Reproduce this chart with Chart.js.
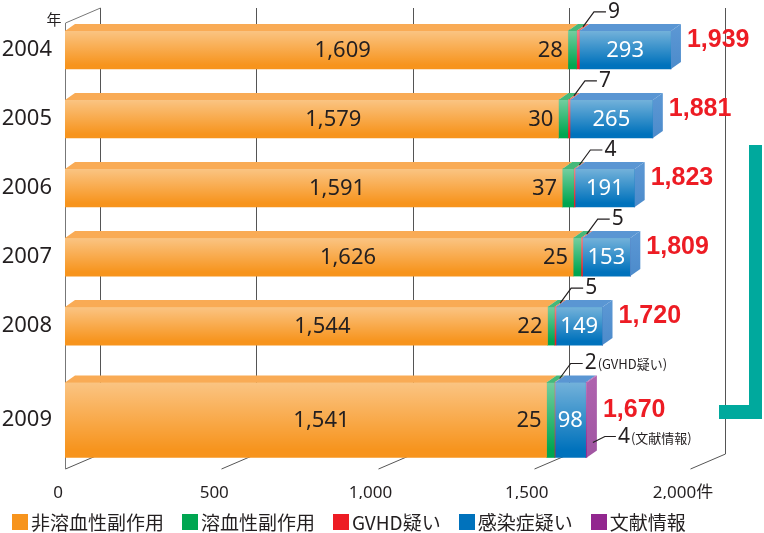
<!DOCTYPE html>
<html lang="ja">
<head>
<meta charset="utf-8">
<script src="https://cdn.jsdelivr.net/npm/chart.js@4.4.0/dist/chart.umd.min.js"></script>
<style>
  html, body { margin: 0; padding: 0; background: #fff; }
  #wrap { position: relative; width: 764px; height: 533px; }
  #legend { position: absolute; left: 12px; top: 511px; display: flex; font: 19px "Noto Sans CJK JP", sans-serif; color: #231f20; line-height: 22px; }
  .item { display: flex; align-items: center; margin-right: 18px; }
  .box { width: 16px; height: 16px; margin-right: 3px; }
</style>
</head>
<body>
<div id="wrap">
  <canvas id="chart" width="764" height="533"></canvas>
  <div id="legend"></div>
</div>
<script>
// 年ごとの件数
const years = ['2004', '2005', '2006', '2007', '2008', '2009'];
const yearPos = [0, 1, 2, 3, 4, 5.36];
const nonHemolytic = [1609, 1579, 1591, 1626, 1544, 1541];
const hemolytic = [28, 30, 37, 25, 22, 25];
const gvhd = [9, 7, 4, 5, 5, 2];
const infection = [293, 265, 191, 153, 149, 98];
const literature = [0, 0, 0, 0, 0, 4];
const totals = [1939, 1881, 1823, 1809, 1720, 1670];
const seriesNames = ['非溶血性副作用', '溶血性副作用', 'GVHD疑い', '感染症疑い', '文献情報'];
const xTicks = [0, 500, 1000, 1500, 2000];

const seriesValues = [nonHemolytic, hemolytic, gvhd, infection, literature];
const frontColors = ['#F7941D', '#00A651', '#ED1C24', '#0072BC', '#92278F'];
const topColors = ['#F9AB55', '#45B87A', '#F26A55', '#5A96D3', '#AE62AE'];
const sideColors = ['#F59A30', '#1FA463', '#E2453A', '#4C8BCB', '#A055A1'];

const DEPTH_X = 10, DEPTH_Y = 7;    // bar depth
const WALL_X = 35, WALL_Y = 15;     // back wall offset
const fmt = v => v.toLocaleString('en-US');

// 2009 is drawn as its own taller group
const groups = [[0, 1, 2, 3, 4], [5]];
const datasets = [];
groups.forEach((rows, g) => {
  seriesValues.forEach((vals, s) => {
    datasets.push({
      label: seriesNames[s],
      data: rows.map(i => ({ x: vals[i], y: yearPos[i] })),
      backgroundColor: frontColors[s],
      borderWidth: 0,
      barThickness: g ? 75 : 38,
      series: s
    });
  });
});

function getBar(chart, row, s) {
  const g = row === 5 ? 1 : 0;
  const meta = chart.getDatasetMeta(g * 5 + s);
  const el = meta.data[g ? 0 : row];
  const p = el.getProps(['x', 'base', 'y', 'height'], true);
  return {
    left: Math.min(p.x, p.base), right: Math.max(p.x, p.base),
    top: p.y - p.height / 2, bottom: p.y + p.height / 2, y: p.y
  };
}

const frame3d = {
  id: 'frame3d',
  beforeDatasetsDraw(chart) {
    const { ctx, chartArea: a, scales: { x } } = chart;
    ctx.save();
    ctx.strokeStyle = '#555';
    ctx.lineWidth = 1;
    xTicks.forEach(v => {
      const px = Math.round(x.getPixelForValue(v)) + 0.5;
      ctx.beginPath();
      ctx.moveTo(px + WALL_X, a.top - WALL_Y);
      ctx.lineTo(px + WALL_X, a.bottom - WALL_Y);
      ctx.lineTo(px, a.bottom);
      ctx.stroke();
    });
    // left wall
    const lx = Math.round(a.left) + 0.5;
    ctx.strokeStyle = '#777';
    ctx.beginPath();
    ctx.moveTo(lx, a.bottom);
    ctx.lineTo(lx, a.top);
    ctx.lineTo(lx + WALL_X, a.top - WALL_Y);
    ctx.stroke();
    ctx.restore();
  },
  afterDatasetsDraw(chart) {
    const { ctx } = chart;
    ctx.save();
    years.forEach((yr, row) => {
      let last = -1;
      seriesValues.forEach((vals, s) => { if (vals[row] > 0) last = s; });
      seriesValues.forEach((vals, s) => {
        if (!(vals[row] > 0)) return;
        const b = getBar(chart, row, s);
        // sheen on front face
        const gr = ctx.createLinearGradient(0, b.top, 0, b.bottom);
        gr.addColorStop(0, 'rgba(255,255,255,0.45)');
        gr.addColorStop(0.9, 'rgba(255,255,255,0)');
        ctx.fillStyle = gr;
        ctx.fillRect(b.left, b.top, b.right - b.left, b.bottom - b.top);
        // top face
        ctx.fillStyle = topColors[s];
        ctx.beginPath();
        ctx.moveTo(b.left, b.top);
        ctx.lineTo(b.right, b.top);
        ctx.lineTo(b.right + DEPTH_X, b.top - DEPTH_Y);
        ctx.lineTo(b.left + DEPTH_X, b.top - DEPTH_Y);
        ctx.closePath();
        ctx.fill();
        if (s === last) {
          const sg = ctx.createLinearGradient(0, b.top, 0, b.bottom);
          sg.addColorStop(0, topColors[s]);
          sg.addColorStop(1, sideColors[s]);
          ctx.fillStyle = sg;
          ctx.beginPath();
          ctx.moveTo(b.right, b.top);
          ctx.lineTo(b.right + DEPTH_X, b.top - DEPTH_Y);
          ctx.lineTo(b.right + DEPTH_X, b.bottom - DEPTH_Y);
          ctx.lineTo(b.right, b.bottom);
          ctx.closePath();
          ctx.fill();
        }
      });
    });

    // value labels
    ctx.textBaseline = 'middle';
    years.forEach((yr, row) => {
      const o = getBar(chart, row, 0);
      const gn = getBar(chart, row, 1);
      const rd = getBar(chart, row, 2);
      const bl = getBar(chart, row, 3);
      ctx.fillStyle = '#231f20';
      ctx.font = '22px "Noto Sans", "Noto Sans CJK JP"';
      ctx.textAlign = 'right';
      ctx.fillText(fmt(nonHemolytic[row]), o.right - 197, o.y + 1);
      ctx.fillText(fmt(hemolytic[row]), gn.left - 5, gn.y + 1);
      ctx.fillStyle = '#fff';
      ctx.textAlign = 'center';
      ctx.fillText(fmt(infection[row]), (bl.left + bl.right) / 2, bl.y + 1);

      // GVHD leader
      const sx = (rd.left + rd.right) / 2 + DEPTH_X / 2;
      const sy = rd.top - 4;
      const ly = rd.top - 19;
      ctx.strokeStyle = '#231f20';
      ctx.lineWidth = 1.2;
      ctx.beginPath();
      ctx.moveTo(sx, sy);
      ctx.lineTo(sx + 11, ly);
      ctx.lineTo(sx + 23, ly);
      ctx.stroke();
      ctx.fillStyle = '#231f20';
      ctx.textAlign = 'left';
      ctx.font = '21px "Noto Sans", "Noto Sans CJK JP"';
      const gtxt = String(gvhd[row]);
      ctx.fillText(gtxt, sx + 25, ly);
      if (row === 5) {
        const w = ctx.measureText(gtxt).width;
        ctx.font = '13px "Noto Sans CJK JP"';
        ctx.fillText('(GVHD疑い)', sx + 26 + w, ly + 1);
      }

      // total
      let lastBar = bl;
      if (literature[row] > 0) lastBar = getBar(chart, row, 4);
      ctx.fillStyle = '#ED1C24';
      ctx.font = 'bold 25px "Liberation Sans", Arial';
      ctx.textAlign = 'left';
      ctx.fillText(fmt(totals[row]), lastBar.right + DEPTH_X + 6, lastBar.y - 10);

      // literature leader
      if (literature[row] > 0) {
        const px = lastBar.right + DEPTH_X * 0.6;
        const py = lastBar.bottom - 15;
        ctx.strokeStyle = '#231f20';
        ctx.beginPath();
        ctx.moveTo(px, py);
        ctx.lineTo(px + 12, py - 6);
        ctx.lineTo(px + 23, py - 6);
        ctx.stroke();
        ctx.fillStyle = '#231f20';
        ctx.font = '21px "Noto Sans", "Noto Sans CJK JP"';
        const t = String(literature[row]);
        ctx.fillText(t, px + 25, py - 5);
        const w = ctx.measureText(t).width;
        ctx.font = '13px "Noto Sans CJK JP"';
        ctx.fillText('(文献情報)', px + 26 + w, py - 4);
      }
    });
    ctx.restore();
  },
  afterDraw(chart) {
    const { ctx } = chart;
    ctx.save();
    ctx.fillStyle = '#231f20';
    ctx.font = '15px "Noto Sans CJK JP"';
    ctx.textAlign = 'center';
    ctx.textBaseline = 'middle';
    ctx.fillText('年', 54, 19);
    // bracket
    ctx.fillStyle = '#00A99D';
    ctx.fillRect(749, 145, 13, 274);
    ctx.fillRect(719, 405, 43, 14);
    ctx.restore();
  }
};

new Chart(document.getElementById('chart'), {
  type: 'bar',
  data: { datasets },
  plugins: [frame3d],
  options: {
    indexAxis: 'y',
    responsive: false,
    animation: false,
    devicePixelRatio: 1,
    layout: { padding: { top: 23, right: 74, bottom: 34, left: 0 } },
    plugins: { legend: { display: false }, tooltip: { enabled: false } },
    scales: {
      x: {
        type: 'linear',
        stacked: true,
        min: 0,
        max: 2000,
        afterBuildTicks: axis => { axis.ticks = xTicks.map(v => ({ value: v })); },
        afterFit: scale => { scale.height = 30; scale.paddingLeft = 0; scale.paddingRight = 0; },
        grid: { display: false },
        border: { display: false },
        ticks: {
          font: { size: 17, family: '"Noto Sans", "Noto Sans CJK JP"' },
          color: '#231f20',
          padding: 6,
          labelOffset: -7,
          maxRotation: 0,
          callback: v => v === 2000 ? '2,000件' : fmt(v)
        }
      },
      y: {
        type: 'linear',
        stacked: true,
        reverse: true,
        offset: false,
        min: -0.39,
        max: 6.07,
        afterBuildTicks: axis => { axis.ticks = yearPos.map(v => ({ value: v })); },
        afterFit: scale => { scale.width = 65; scale.paddingTop = 0; scale.paddingBottom = 0; },
        grid: { display: false, offset: false },
        border: { display: false },
        ticks: {
          font: { size: 22, family: '"Noto Sans"' },
          color: '#231f20',
          padding: 5,
          autoSkip: false,
          callback: (v, i) => years[i]
        }
      }
    }
  }
});

const legend = document.getElementById('legend');
seriesNames.forEach((name, s) => {
  const item = document.createElement('div');
  item.className = 'item';
  const box = document.createElement('span');
  box.className = 'box';
  box.style.background = frontColors[s];
  const label = document.createElement('span');
  label.textContent = name;
  item.appendChild(box);
  item.appendChild(label);
  legend.appendChild(item);
});
</script>
</body>
</html>
